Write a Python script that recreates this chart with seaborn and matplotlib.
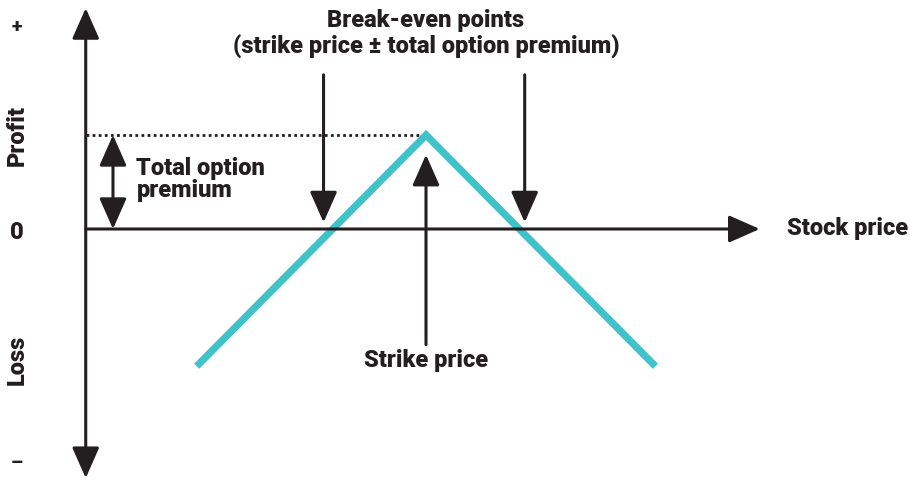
"""Short straddle payoff diagram"""

import matplotlib
matplotlib.use("Agg")
import matplotlib.pyplot as plt
import seaborn as sns
import pandas as pd

sns.set_theme(style="white")
plt.rcParams['font.family'] = ['Roboto', 'DejaVu Sans']

# payoff at expiry (strike 100, premium 10)
stock_price = [75.6, 100, 124.4]
payoff = [-14.6, 10, -14.6]
strike = 100
premium = 10
breakeven = [strike - premium, strike + premium]

INK = "#231f20"
TEAL = "#3fc2ca"
W = "heavy"

fig = plt.figure(figsize=(9.1, 4.8), dpi=100)
ax = fig.add_axes([0, 0, 1, 1])
ax.set_xlim(54.68, 151.49)
ax.set_ylim(-26.70, 24.36)
ax.axis("off")

df = pd.DataFrame({"price": stock_price, "pnl": payoff})
sns.lineplot(data=df, x="price", y="pnl", color=TEAL, lw=5.2, ax=ax,
             solid_capstyle="butt", solid_joinstyle="miter", zorder=3)

head = "-|>,head_width=0.42,head_length=0.95"
dhead = "<|-|>,head_width=0.42,head_length=0.95"
x_axis = 63.8


def arrow(xy, xytext, style=head):
    ax.annotate("", xy=xy, xytext=xytext,
                arrowprops=dict(arrowstyle=style, color=INK, lw=2.2, mutation_scale=20,
                                shrinkA=0, shrinkB=0))


def label(x, y, s, ha="center", fs=17, **kw):
    ax.text(x, y, s, fontsize=fs, fontweight=W, color=INK, ha=ha, va="center", **kw)


# axes
arrow((x_axis, 23.5), (x_axis, -26.5), dhead)
arrow((135.5, 0), (x_axis, 0))

# premium level
ax.plot([x_axis, strike], [premium, premium], ls=(0, (1, 1.2)), color=INK, lw=2)
arrow((66.7, premium), (66.7, 0), dhead)
label(69.2, 6.4, "Total option", ha="left")
label(69.2, 4.1, "premium", ha="left")

# break-even arrows
for be, dx in zip(breakeven, [-0.9, 0.5]):
    arrow((be + dx, 0.7), (be + dx, 16.4))
label(strike, 22.2, "Break-even points")
label(strike, 19.4, "(strike price ± total option premium)")

# strike arrow
arrow((strike, 7.9), (strike, -12.3))
label(strike, -14.0, "Strike price")

label(138.4, 0.1, "Stock price", ha="left")

# y-axis labels
lx = 56.5
label(lx, 21.5, "+", fs=14)
label(lx, 9.9, "Profit", rotation=90)
label(lx, -0.4, "0")
label(lx, -13.9, "Loss", rotation=90)
label(lx, -24.9, "–", fs=14)

fig.savefig("out.png", dpi=100)
